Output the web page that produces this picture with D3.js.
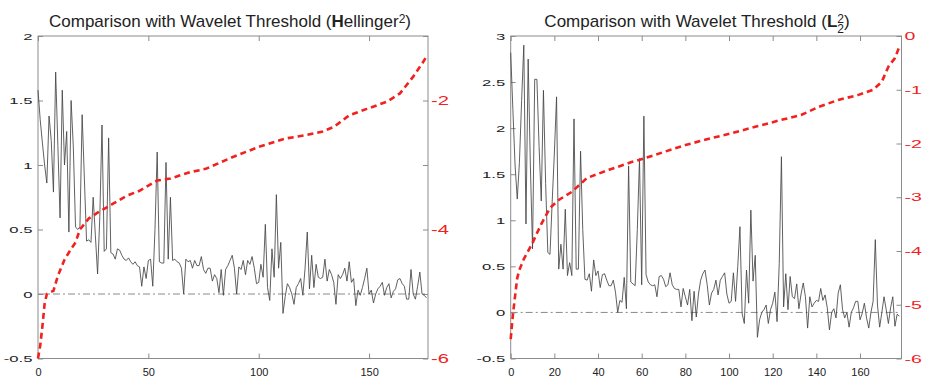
<!DOCTYPE html>
<html>
<head>
<meta charset="utf-8">
<script src="https://cdn.jsdelivr.net/npm/d3@7"></script>
<style>
  body { margin: 0; background: #fff; }
  svg { display: block; font-family: "Liberation Sans", Arial, sans-serif; }
</style>
</head>
<body>
<svg id="chart" width="925" height="376"></svg>
<script>
// Hellinger^2 panel: difference per test function (black) and sorted log ratio (red)
const hellingerDiff = [
  1.58, 1.35, 1.17, 1.0, 0.86, 1.38, 1.19, 0.79, 1.72, 1.15,
  0.59, 1.58, 1.0, 1.26, 0.48, 1.5, 1.14, 0.52, 0.5, 0.52,
  1.39, 0.9, 0.41, 0.42, 0.4, 0.75, 0.45, 0.155, 0.6, 1.31,
  0.33, 0.35, 1.21, 0.32, 0.31, 0.27, 0.35, 0.34, 0.3, 0.27,
  0.26, 0.28, 0.25, 0.23, 0.25, 0.22, 0.21, 0.06, 0.21, 0.12,
  0.26, 0.27, 0.06, 0.5, 1.1, 0.25, 0.24, 0.24, 1.02, 0.27,
  0.75, 0.26, 0.27, 0.25, 0.24, 0.2, 0.0, 0.27, 0.25, 0.26,
  0.2, 0.26, 0.22, 0.22, 0.29, 0.19, 0.16, 0.2, 0.2, 0.1,
  0.15, 0.12, 0.01, 0.19, -0.01, 0.19, 0.22, 0.26, 0.3, 0.2,
  0.0, 0.21, 0.19, 0.26, 0.15, 0.26, 0.23, 0.29, 0.2, 0.08,
  0.09, 0.23, 0.13, 0.54, 0.05, -0.05, 0.35, 0.13, 0.77, 0.2,
  0.4, -0.15, -0.02, 0.08, 0.05, 0.0, -0.08, 0.05, 0.08, 0.12,
  -0.01, 0.2, 0.48, 0.04, 0.3, 0.05, 0.23, 0.13, 0.12, 0.13,
  0.27, 0.1, 0.19, 0.15, 0.09, -0.08, 0.15, 0.12, 0.15, 0.2,
  0.1, 0.25, 0.09, 0.12, -0.09, 0.03, -0.01, 0.05, 0.12, 0.2,
  0.0, 0.03, -0.07, 0.0, 0.04, 0.06, 0.09, -0.01, 0.05, 0.08,
  -0.03, 0.02, 0.04, 0.11, 0.12, 0.08, 0.06, -0.04, -0.04, 0.19,
  0.0, -0.04, 0.06, 0.17, 0.0, -0.01, -0.03
];
const hellingerRatioX = [0, 1, 2, 3, 4, 7, 9, 12, 15, 17, 19, 23, 27, 34, 40, 46, 52, 54, 60, 69,
  76, 88, 100, 112, 121, 129, 134, 141, 149, 158, 164, 170, 174, 176];
const hellingerRatioY = [-6.0, -5.8, -5.5, -5.15, -5.0, -4.95, -4.72, -4.47, -4.3, -4.2, -4.0, -3.83,
  -3.74, -3.6, -3.48, -3.4, -3.28, -3.24, -3.21, -3.11, -3.06, -2.88, -2.72, -2.59, -2.54, -2.48,
  -2.41, -2.23, -2.13, -2.02, -1.89, -1.63, -1.43, -1.32];

// L2^2 panel
const l2Diff = [
  2.82, 2.2, 1.6, 1.23, 1.63, 2.3, 2.9, 0.96, 2.75, 1.6,
  0.69, 2.53, 2.53, 1.8, 1.21, 2.41, 1.4, 0.65, 0.63, 1.2,
  1.73, 2.34, 0.47, 0.74, 0.47, 1.12, 0.4, 0.54, 0.4, 2.1,
  0.47, 0.47, 1.75, 0.9, 0.36, 0.35, 0.42, 0.23, 0.57, 0.4,
  0.45, 0.27, 0.41, 0.42, 0.35, 0.29, 0.29, 0.35, 0.22, 0.0,
  0.13, 0.11, 0.38, 0.04, 1.59, 0.33, 0.31, 0.29, 0.9, 1.67,
  0.3, 2.13, 0.41, 0.33, 0.3, 0.29, 0.3, 0.17, 0.39, 0.4,
  0.36, 0.28, 0.3, 0.43, 0.3, 0.26, 0.25, 0.25, 0.06, 0.26,
  0.17, 0.08, 0.25, -0.09, 0.23, -0.05, 0.2, 0.35, 0.42, 0.46,
  0.3, 0.08, 0.21, 0.25, 0.35, 0.19, 0.35, 0.39, 0.43, 0.2,
  0.1, 0.12, 0.43, 0.12, 0.5, 0.93, -0.01, -0.12, 0.46, 0.1,
  1.11, 0.34, 0.62, -0.27, -0.08, 0.0, 0.03, 0.08, -0.12, 0.03,
  0.1, 0.22, -0.1, 0.53, 1.69, 0.06, 0.42, 0.03, 0.39, 0.17,
  0.15, 0.31, 0.04, 0.2, 0.32, 0.17, -0.17, 0.17, 0.06, 0.1,
  0.13, 0.12, 0.26, 0.13, 0.19, 0.05, -0.19, 0.0, 0.04, -0.06,
  0.21, 0.3, 0.03, -0.06, 0.0, -0.16, 0.0, 0.05, 0.12, 0.12,
  -0.08, -0.01, 0.1, -0.06, -0.17, 0.0, 0.12, 0.79, 0.08, -0.16,
  0.0, 0.17, 0.03, -0.12, 0.05, 0.17, -0.15, -0.02, -0.04
];
const l2RatioX = [0, 1, 2, 3, 4, 6, 10, 12, 14, 18, 22, 28, 35, 45, 55, 61, 70, 80, 89, 101,
  112, 124, 133, 141, 150, 159, 166, 170, 173, 176, 178];
const l2RatioY = [-5.64, -5.19, -4.84, -4.5, -4.35, -4.15, -3.85, -3.67, -3.5, -3.2, -3.05, -2.9,
  -2.64, -2.49, -2.35, -2.28, -2.16, -2.03, -1.93, -1.81, -1.69, -1.56, -1.47, -1.32, -1.19,
  -1.1, -1.0, -0.85, -0.57, -0.41, -0.2];

// ticks
const hellXTicks = [0, 50, 100, 150];
const hellYTicks = [-0.5, 0, 0.5, 1, 1.5, 2];
const hellRatioTicks = [-6, -5, -4, -3, -2, -1];
const hellRatioLabels = [-6, -4, -2];
const l2XTicks = [0, 20, 40, 60, 80, 100, 120, 140, 160];
const l2YTicks = [-0.5, 0, 0.5, 1, 1.5, 2, 2.5, 3];
const l2RatioTicks = [-6, -5, -4, -3, -2, -1, 0];

const axisColor = "#8c8c8c";
const red = "#f0211e";
const svg = d3.select("#chart");
const plotTop = 36, plotBottom = 358.5;

const panels = [
  {
    left: 38, right: 428, xMax: 176.7, yDomain: [-0.5, 2], rDomain: [-6, -1],
    diff: hellingerDiff, rx: hellingerRatioX, ry: hellingerRatioY,
    xTicks: hellXTicks, yTicks: hellYTicks, rTicks: hellRatioTicks,
    rLabel: (d) => (hellRatioLabels.includes(d) ? String(d) : ""),
    rFont: 13, rScale: 1.55, titleX: 230
  },
  {
    left: 510.7, right: 901.5, xMax: 179, yDomain: [-0.5, 3], rDomain: [-6, 0],
    diff: l2Diff, rx: l2RatioX, ry: l2RatioY,
    xTicks: l2XTicks, yTicks: l2YTicks, rTicks: l2RatioTicks,
    rLabel: (d) => String(d),
    rFont: 11.5, rScale: 1.7, titleX: 697
  }
];

// stretch tick labels horizontally like the original
const styleLabels = (g, size, sx, gap, color) => {
  g.selectAll("text")
    .attr("font-size", size)
    .attr("fill", color)
    .attr("font-family", "Liberation Sans, Arial, sans-serif")
    .attr("transform", `scale(${sx},1)`)
    .attr("x", gap / sx);
};

panels.forEach((p, k) => {
  const x = d3.scaleLinear().domain([0, p.xMax]).range([p.left, p.right]);
  const y = d3.scaleLinear().domain(p.yDomain).range([plotBottom, plotTop]);
  const yr = d3.scaleLinear().domain(p.rDomain).range([plotBottom, plotTop]);

  // box
  svg.append("rect")
    .attr("x", p.left).attr("y", plotTop)
    .attr("width", p.right - p.left).attr("height", plotBottom - plotTop)
    .attr("fill", "none").attr("stroke", axisColor).attr("stroke-width", 1);

  const gl = svg.append("g").attr("transform", `translate(${p.left},0)`)
    .call(d3.axisLeft(y).tickValues(p.yTicks).tickSize(-5).tickPadding(5).tickFormat(String));
  styleLabels(gl, 9.8, 1.7, -5.5, "#222");

  const gb = svg.append("g").attr("transform", `translate(0,${plotBottom})`)
    .call(d3.axisBottom(x).tickValues(p.xTicks).tickSize(-5).tickPadding(0).tickFormat(String));
  gb.selectAll("text").attr("font-size", 11).attr("fill", "#222")
    .attr("font-family", "Liberation Sans, Arial, sans-serif")
    .attr("dy", 0).attr("y", 17);

  const gt = svg.append("g").attr("transform", `translate(0,${plotTop})`)
    .call(d3.axisTop(x).tickValues(p.xTicks).tickSize(-5).tickFormat(""));

  const gr = svg.append("g").attr("transform", `translate(${p.right},0)`)
    .call(d3.axisRight(yr).tickValues(p.rTicks).tickSize(-5).tickPadding(3).tickFormat(p.rLabel));
  styleLabels(gr, p.rFont, p.rScale, 3, red);

  [gl, gb, gt, gr].forEach((g) => {
    g.select(".domain").remove();
    g.selectAll("line").attr("stroke", axisColor);
  });

  // zero reference
  svg.append("line")
    .attr("x1", x(0)).attr("x2", x(p.diff.length - 1))
    .attr("y1", y(0)).attr("y2", y(0))
    .attr("stroke", "#8a8a8a").attr("stroke-width", 1)
    .attr("stroke-dasharray", "7,3,2,3");

  svg.append("path")
    .datum(p.diff)
    .attr("fill", "none").attr("stroke", "#444").attr("stroke-width", 0.85)
    .attr("d", d3.line().x((d, i) => x(i)).y((d) => y(d)));

  svg.append("path")
    .datum(d3.zip(p.rx, p.ry))
    .attr("fill", "none").attr("stroke", red).attr("stroke-width", 2.6)
    .attr("stroke-dasharray", "6,4")
    .attr("d", d3.line().x((d) => x(d[0])).y((d) => yr(d[1])));

  // title
  const t = svg.append("text")
    .attr("x", p.titleX).attr("y", 26.5)
    .attr("text-anchor", "middle").attr("font-size", 17).attr("fill", "#222")
    .text("Comparison with Wavelet Threshold (");
  if (k === 0) {
    t.append("tspan").attr("font-weight", "bold").text("H");
    t.append("tspan").text("ellinger");
    t.append("tspan").attr("font-size", 12).attr("dy", -3.5).text("2");
    t.append("tspan").attr("dy", 3.5).text(")");
  } else {
    t.append("tspan").attr("font-weight", "bold").text("L");
    t.append("tspan").attr("font-size", 12).attr("dy", -3.5).text("2");
    t.append("tspan").attr("font-size", 12).attr("dx", -6.7).attr("dy", 10).text("2");
    t.append("tspan").attr("dy", -6.5).text(")");
  }
});
</script>
</body>
</html>
